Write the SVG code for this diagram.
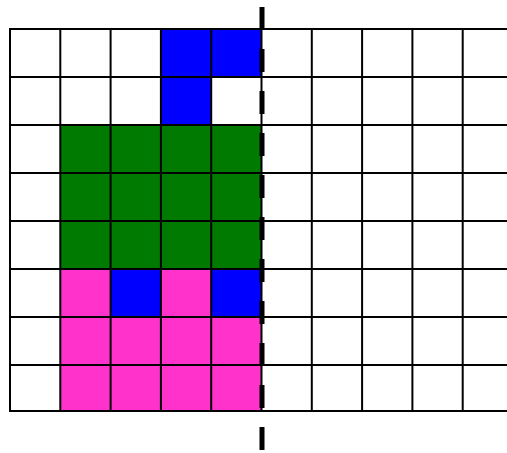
<svg xmlns="http://www.w3.org/2000/svg" width="507" height="453" viewBox="0 0 507 453">
<style>
.b{fill:#0000ff}.g{fill:#007a00}.p{fill:#ff33cc}
.grid line{stroke:#000;stroke-width:2}
.dash{stroke:#000;stroke-width:5;stroke-dasharray:23 19;fill:none}
</style>
<rect width="507" height="453" fill="#fff"/>
<g id="cells">
<rect class="b" x="161" y="29" width="50.3" height="48"/>
<rect class="b" x="211.2" y="29" width="50.3" height="48"/>
<rect class="b" x="161" y="77" width="50.3" height="48"/>
<rect class="g" x="60.3" y="125" width="201.2" height="144"/>
<rect class="p" x="60.3" y="269" width="201.2" height="143"/>
<rect class="b" x="110.6" y="269" width="50.3" height="48"/>
<rect class="b" x="211.2" y="269" width="50.3" height="48"/>
</g>
<g id="grid" class="grid">
<line x1="9" y1="29" x2="507" y2="29"/>
<line x1="9" y1="77" x2="507" y2="77"/>
<line x1="9" y1="125" x2="507" y2="125"/>
<line x1="9" y1="173" x2="507" y2="173"/>
<line x1="9" y1="221" x2="507" y2="221"/>
<line x1="9" y1="269" x2="507" y2="269"/>
<line x1="9" y1="317" x2="507" y2="317"/>
<line x1="9" y1="365" x2="507" y2="365"/>
<line x1="9" y1="411" x2="507" y2="411"/>
<line x1="10" y1="28" x2="10" y2="412"/>
<line x1="60.3" y1="28" x2="60.3" y2="412"/>
<line x1="110.6" y1="28" x2="110.6" y2="412"/>
<line x1="160.9" y1="28" x2="160.9" y2="412"/>
<line x1="211.2" y1="28" x2="211.2" y2="412"/>
<line x1="261.5" y1="28" x2="261.5" y2="412"/>
<line x1="311.8" y1="28" x2="311.8" y2="412"/>
<line x1="362.1" y1="28" x2="362.1" y2="412"/>
<line x1="412.4" y1="28" x2="412.4" y2="412"/>
<line x1="462.7" y1="28" x2="462.7" y2="412"/>
</g>
<g id="connectors">
<line class="dash" x1="262" y1="7" x2="262" y2="453"/>
</g>
</svg>
